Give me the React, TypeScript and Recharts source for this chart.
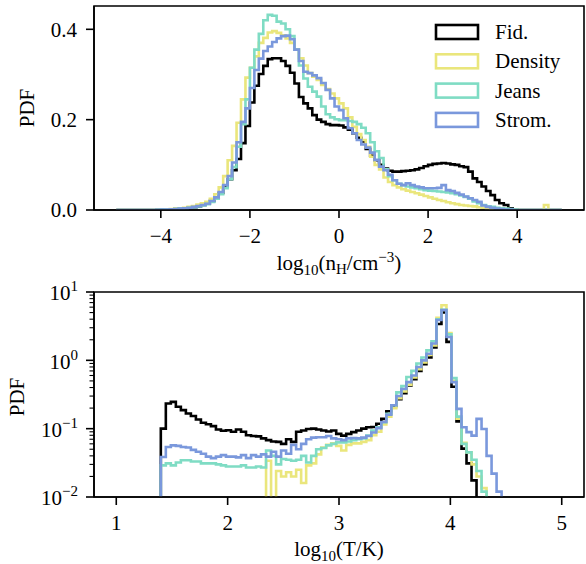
import { LineChart, Line, XAxis, YAxis, ReferenceArea } from 'recharts'

const FONT = "'Liberation Serif', 'DejaVu Serif', serif"
const FONT_SIZE = 21
const SUB_SIZE = 15
const PLOT_LEFT = 94
const LOW = 1e-4

// series styling
const SERIES = [
  { key: 'fid', name: 'Fid.', color: '#000000' },
  { key: 'dens', name: 'Density', color: '#EAE67C' },
  { key: 'jeans', name: 'Jeans', color: '#7FDCC4' },
  { key: 'strom', name: 'Strom.', color: '#7A98DC' },
]

// ---- top panel: log10(nH) histogram, 100 bins of 0.1 from -5 ----
const DENSITY_BIN_START = -5
const DENSITY_BIN_WIDTH = 0.1
const DENSITY_TICKS = [-4, -2, 0, 2, 4]
const PDF_TICKS = [0, 0.2, 0.4]

const FID_DENSITY = [
  0, 0, 0, 0, 0, 0, 0, 0, 0, 0.0005,
  0.001, 0.001, 0.0015, 0.002, 0.003, 0.004, 0.005, 0.006, 0.008, 0.011,
  0.015, 0.02, 0.027, 0.038, 0.052, 0.068, 0.088, 0.113, 0.148, 0.186,
  0.238, 0.275, 0.301, 0.319, 0.334, 0.336, 0.336, 0.33, 0.319, 0.304,
  0.28, 0.25, 0.236, 0.225, 0.21, 0.2, 0.195, 0.19, 0.188, 0.188,
  0.187, 0.183, 0.178, 0.17, 0.16, 0.152, 0.135, 0.12, 0.11, 0.1,
  0.092, 0.087, 0.085, 0.085, 0.086, 0.087, 0.088, 0.09, 0.093, 0.097,
  0.1, 0.102, 0.103, 0.104, 0.103, 0.101, 0.1, 0.097, 0.095, 0.085,
  0.07, 0.062, 0.052, 0.042, 0.033, 0.022, 0.015, 0.011, 0.004, 0.001,
  0, 0, 0, 0, 0, 0, 0, 0, 0, 0,
]

const DENS_DENSITY = [
  0, 0, 0, 0, 0, 0, 0, 0, 0, 0.0005,
  0.001, 0.0015, 0.002, 0.003, 0.004, 0.005, 0.007, 0.009, 0.012, 0.015,
  0.018, 0.025, 0.035, 0.05, 0.075, 0.11, 0.142, 0.193, 0.245, 0.293,
  0.315, 0.34, 0.37, 0.381, 0.393, 0.396, 0.392, 0.387, 0.38, 0.37,
  0.355, 0.336, 0.32, 0.303, 0.295, 0.288, 0.277, 0.268, 0.258, 0.247,
  0.236, 0.225, 0.205, 0.184, 0.168, 0.155, 0.14, 0.118, 0.1, 0.09,
  0.072, 0.062, 0.055, 0.05, 0.046, 0.043, 0.04, 0.037, 0.034, 0.031,
  0.028, 0.025, 0.022, 0.02, 0.017, 0.015, 0.013, 0.011, 0.01, 0.009,
  0.008, 0.006, 0.005, 0.004, 0.003, 0.003, 0.002, 0.002, 0.001, 0.001,
  0, 0, 0, 0, 0, 0, 0.011, 0, 0, 0,
]

const JEANS_DENSITY = [
  0, 0, 0, 0, 0, 0, 0, 0, 0, 0.0005,
  0.001, 0.001, 0.0015, 0.002, 0.003, 0.004, 0.005, 0.006, 0.008, 0.01,
  0.013, 0.018, 0.025, 0.035, 0.048, 0.068, 0.095, 0.14, 0.19, 0.245,
  0.315, 0.355, 0.39, 0.42, 0.432, 0.43, 0.417, 0.413, 0.4, 0.385,
  0.355, 0.32, 0.291, 0.273, 0.262, 0.251, 0.229, 0.212, 0.205, 0.201,
  0.199, 0.199, 0.197, 0.195, 0.19, 0.182, 0.17, 0.15, 0.13, 0.115,
  0.09, 0.075, 0.066, 0.058, 0.055, 0.052, 0.05, 0.048, 0.046, 0.044,
  0.043, 0.042, 0.041, 0.04, 0.039, 0.037, 0.035, 0.032, 0.029, 0.025,
  0.019, 0.015, 0.011, 0.008, 0.007, 0.005, 0.004, 0.003, 0.002, 0.001,
  0, 0, 0, 0, 0, 0, 0, 0, 0, 0,
]

const STROM_DENSITY = [
  0, 0, 0, 0, 0, 0, 0, 0, 0, 0.0005,
  0.001, 0.001, 0.0015, 0.002, 0.003, 0.004, 0.005, 0.007, 0.009, 0.011,
  0.014, 0.02, 0.028, 0.04, 0.055, 0.075, 0.105, 0.15, 0.195, 0.225,
  0.27, 0.31, 0.335, 0.352, 0.362, 0.372, 0.38, 0.385, 0.386, 0.378,
  0.355, 0.33, 0.306, 0.303, 0.298, 0.292, 0.281, 0.266, 0.247, 0.229,
  0.221, 0.203, 0.181, 0.17, 0.155, 0.145, 0.138, 0.127, 0.111, 0.096,
  0.088, 0.078, 0.066, 0.058, 0.055, 0.059, 0.055, 0.052, 0.05, 0.048,
  0.048, 0.048, 0.049, 0.055, 0.044, 0.042, 0.038, 0.034, 0.03, 0.026,
  0.022, 0.018, 0.01, 0.007, 0.005, 0.003, 0.002, 0.001, 0.001, 0,
  0, 0, 0, 0, 0, 0, 0, 0, 0, 0,
]

// ---- bottom panel: log10(T) histogram, 68 bins of 0.045 from 1.4 ----
const TEMP_BIN_START = 1.4
const TEMP_BIN_WIDTH = 0.045
const TEMP_TICKS = [1, 2, 3, 4, 5]
const LOG_MAJOR = [0.01, 0.1, 1, 10]
const LOG_MINOR = [
  0.02, 0.03, 0.04, 0.05, 0.06, 0.07, 0.08, 0.09,
  0.2, 0.3, 0.4, 0.5, 0.6, 0.7, 0.8, 0.9,
  2, 3, 4, 5, 6, 7, 8, 9,
]

const FID_TEMP = [
  0.1, 0.234, 0.247, 0.209, 0.187, 0.167, 0.153, 0.136, 0.122, 0.116,
  0.109, 0.097, 0.093, 0.095, 0.09, 0.097, 0.09, 0.08, 0.078, 0.077,
  0.072, 0.068, 0.065, 0.064, 0.06, 0.07, 0.064, 0.09, 0.094, 0.099,
  0.1, 0.097, 0.094, 0.091, 0.094, 0.084, 0.079, 0.084, 0.089, 0.094,
  0.1, 0.105, 0.106, 0.118, 0.139, 0.18, 0.215, 0.27, 0.33, 0.43,
  0.53, 0.7, 0.88, 1.1, 1.55, 3.4, 5.0, 1.86, 0.41, 0.128,
  0.051, 0.031, 0.0175, 0, 0, 0, 0, 0,
]

const DENS_TEMP = [
  0, 0, 0, 0, 0, 0, 0, 0, 0, 0,
  0, 0, 0, 0, 0, 0, 0, 0, 0, 0,
  0, 0.034, 0, 0.024, 0.02, 0.023, 0.02, 0.025, 0.016, 0.029,
  0.031, 0.042, 0.053, 0.058, 0.061, 0.056, 0.048, 0.058, 0.061, 0.061,
  0.064, 0.068, 0.08, 0.09, 0.115, 0.15, 0.2, 0.28, 0.35, 0.44,
  0.56, 0.74, 0.93, 1.2, 1.65, 4.2, 6.4, 2.5, 0.5, 0.14,
  0.062, 0.045, 0.03, 0.02, 0.0135, 0, 0, 0,
]

const JEANS_TEMP = [
  0.029, 0.031, 0.029, 0.032, 0.0345, 0.0345, 0.033, 0.033, 0.031, 0.031,
  0.031, 0.03, 0.029, 0.028, 0.028, 0.028, 0.029, 0.027, 0.027, 0.028,
  0.027, 0.048, 0.04, 0.03, 0.036, 0.035, 0.034, 0.035, 0.04, 0.032,
  0.04, 0.05, 0.052, 0.057, 0.06, 0.063, 0.063, 0.065, 0.068, 0.07,
  0.072, 0.079, 0.094, 0.105, 0.124, 0.165, 0.22, 0.34, 0.42, 0.57,
  0.7, 0.9, 1.1, 1.4, 1.9, 4.0, 5.5, 2.4, 0.55, 0.15,
  0.06, 0.045, 0.035, 0.024, 0.012, 0, 0, 0,
]

const STROM_TEMP = [
  0.0385, 0.054, 0.057, 0.056, 0.054, 0.053, 0.049, 0.046, 0.043, 0.039,
  0.037, 0.039, 0.041, 0.039, 0.039, 0.038, 0.041, 0.037, 0.041, 0.039,
  0.042, 0.039, 0.046, 0.039, 0.048, 0.043, 0.058, 0.05, 0.06, 0.07,
  0.074, 0.075, 0.075, 0.078, 0.072, 0.07, 0.068, 0.072, 0.073, 0.072,
  0.074, 0.078, 0.088, 0.102, 0.125, 0.16, 0.22, 0.3, 0.38, 0.48,
  0.6, 0.8, 1.0, 1.25, 1.76, 3.9, 5.45, 2.2, 0.48, 0.195,
  0.105, 0.089, 0.079, 0.139, 0.099, 0.04, 0.022, 0.012,
]

// step rows: x is each bin's left edge, plus a closing edge
const densityRows = FID_DENSITY.map((_, i) => ({
  x: +(DENSITY_BIN_START + i * DENSITY_BIN_WIDTH).toFixed(3),
  fid: FID_DENSITY[i],
  dens: DENS_DENSITY[i],
  jeans: JEANS_DENSITY[i],
  strom: STROM_DENSITY[i],
}))
densityRows.push({
  x: +(DENSITY_BIN_START + FID_DENSITY.length * DENSITY_BIN_WIDTH).toFixed(3),
  fid: 0, dens: 0, jeans: 0, strom: 0,
})

// empty bins sit below the log axis and get clipped
const pos = (v: number) => (v > 0 ? v : LOW)
const tempRows = [
  { x: +(TEMP_BIN_START - TEMP_BIN_WIDTH).toFixed(3), fid: LOW, dens: LOW, jeans: LOW, strom: LOW },
  ...FID_TEMP.map((_, i) => ({
    x: +(TEMP_BIN_START + i * TEMP_BIN_WIDTH).toFixed(3),
    fid: pos(FID_TEMP[i]),
    dens: pos(DENS_TEMP[i]),
    jeans: pos(JEANS_TEMP[i]),
    strom: pos(STROM_TEMP[i]),
  })),
  { x: +(TEMP_BIN_START + FID_TEMP.length * TEMP_BIN_WIDTH).toFixed(3), fid: LOW, dens: LOW, jeans: LOW, strom: LOW },
]

const minus = (v: number) => (v < 0 ? `\u2212${Math.abs(v)}` : `${v}`)

const tickText = { fill: '#000', fontSize: FONT_SIZE, fontFamily: FONT }
const axisStroke = { stroke: '#000', strokeWidth: 1.6 }

const PdfLabel = (cx: number, cy: number) => () => (
  <text
    x={cx}
    y={cy}
    transform={`rotate(-90, ${cx}, ${cy})`}
    textAnchor="middle"
    dominantBaseline="central"
    fill="#000"
    fontSize={FONT_SIZE}
    fontFamily={FONT}
  >
    PDF
  </text>
)

const DensityLabel = () => (
  <text x={339} y={270} textAnchor="middle" fill="#000" fontSize={FONT_SIZE} fontFamily={FONT}>
    log<tspan dy={5} fontSize={SUB_SIZE}>10</tspan>
    <tspan dy={-5}>(n</tspan>
    <tspan dy={4} fontSize={SUB_SIZE}>H</tspan>
    <tspan dy={-4}>/cm</tspan>
    <tspan dy={-8} fontSize={SUB_SIZE}>{'\u22123'}</tspan>
    <tspan dy={8}>)</tspan>
  </text>
)

const TempLabel = () => (
  <text x={339} y={286} textAnchor="middle" fill="#000" fontSize={FONT_SIZE} fontFamily={FONT}>
    log<tspan dy={5} fontSize={SUB_SIZE}>10</tspan>
    <tspan dy={-5}>(T/K)</tspan>
  </text>
)

const LogTick = (props: any) => {
  const { y, payload } = props
  const v = payload.value as number
  const e = Math.round(Math.log10(v))
  const major = Math.abs(Math.log10(v) - e) < 1e-6
  const len = major ? 8 : 4.5
  return (
    <g>
      <line x1={PLOT_LEFT - len} x2={PLOT_LEFT} y1={y} y2={y} stroke="#000" strokeWidth={major ? 1.6 : 1.1} />
      {major && (
        <text x={PLOT_LEFT - 16} y={y} dy="0.4em" textAnchor="end" fill="#000" fontSize={FONT_SIZE} fontFamily={FONT}>
          10<tspan dy={-9} fontSize={SUB_SIZE}>{e < 0 ? `\u2212${-e}` : `${e}`}</tspan>
        </text>
      )}
    </g>
  )
}

const Legend = () => (
  <svg width={586} height={280} style={{ position: 'absolute', left: 0, top: 0, pointerEvents: 'none' }}>
    {SERIES.map((s, i) => {
      const cy = 32 + i * 29.3
      return (
        <g key={s.key}>
          <rect x={436} y={cy - 7} width={42} height={14} fill="none" stroke={s.color} strokeWidth={2.6} />
          <text x={495} y={cy + 7} fill="#000" fontSize={FONT_SIZE} fontFamily={FONT}>
            {s.name}
          </text>
        </g>
      )
    })}
  </svg>
)

export default function App() {
  return (
    <div style={{ position: 'absolute', left: 0, top: 0, width: 586, height: 564, background: '#fff' }}>
      <div style={{ position: 'absolute', left: 0, top: 0 }}>
        <LineChart width={586} height={270} data={densityRows} margin={{ top: 6, right: 2, bottom: 0, left: 0 }}>
          <XAxis
            dataKey="x"
            type="number"
            domain={[-5.5, 5.5]}
            ticks={DENSITY_TICKS}
            interval={0}
            allowDataOverflow
            tickFormatter={minus}
            tick={tickText}
            tickSize={8}
            tickMargin={10}
            axisLine={axisStroke}
            tickLine={axisStroke}
            height={60}
          />
          <YAxis
            type="number"
            domain={[0, 0.4516]}
            ticks={PDF_TICKS}
            interval={0}
            allowDataOverflow
            tickFormatter={(v: number) => v.toFixed(1)}
            tick={tickText}
            tickSize={8}
            tickMargin={9}
            axisLine={axisStroke}
            tickLine={axisStroke}
            width={PLOT_LEFT}
            label={PdfLabel(27, 108)}
          />
          <ReferenceArea x1={-5.5} x2={5.5} y1={0} y2={0.4516} fill="none" stroke="#000" strokeWidth={1.6} />
          {SERIES.map((s) => (
            <Line
              key={s.key}
              dataKey={s.key}
              type="stepAfter"
              stroke={s.color}
              strokeWidth={2.6}
              dot={false}
              activeDot={false}
              isAnimationActive={false}
            />
          ))}
        </LineChart>
      </div>
      <Legend />
      <div style={{ position: 'absolute', left: 0, top: 270 }}>
        <LineChart width={586} height={294} data={tempRows} margin={{ top: 22, right: 2, bottom: 0, left: 0 }}>
          <XAxis
            dataKey="x"
            type="number"
            domain={[0.8, 5.2]}
            ticks={TEMP_TICKS}
            interval={0}
            allowDataOverflow
            tick={tickText}
            tickSize={8}
            tickMargin={10}
            axisLine={axisStroke}
            tickLine={axisStroke}
            height={67}
            label={TempLabel}
          />
          <YAxis
            type="number"
            scale="log"
            domain={[0.01, 10]}
            ticks={[...LOG_MAJOR, ...LOG_MINOR]}
            interval={0}
            allowDataOverflow
            tick={<LogTick />}
            tickLine={false}
            axisLine={axisStroke}
            width={PLOT_LEFT}
            label={PdfLabel(17, 127)}
          />
          <ReferenceArea x1={0.8} x2={5.2} y1={0.01} y2={10} fill="none" stroke="#000" strokeWidth={1.6} />
          {SERIES.map((s) => (
            <Line
              key={s.key}
              dataKey={s.key}
              type="stepAfter"
              stroke={s.color}
              strokeWidth={2.6}
              dot={false}
              activeDot={false}
              isAnimationActive={false}
            />
          ))}
        </LineChart>
      </div>
      <svg width={586} height={280} style={{ position: 'absolute', left: 0, top: 0, pointerEvents: 'none' }}>
        <DensityLabel />
      </svg>
    </div>
  )
}
